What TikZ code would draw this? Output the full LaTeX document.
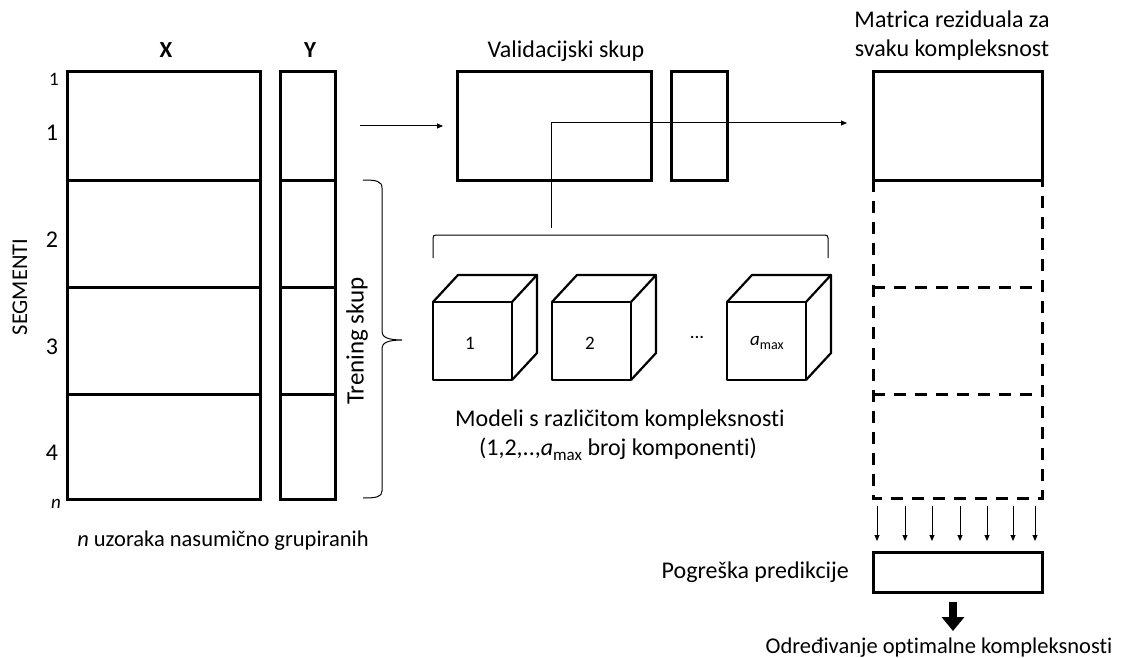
\documentclass[tikz,border=0pt]{standalone}
\usepackage{fontspec}
\setmainfont{Carlito}[Ligatures=CommonOff]
\usetikzlibrary{arrows.meta}
\newcommand{\amx}[1]{\itshape a\upshape\raisebox{-0.22em}{\fontsize{#1}{#1}\selectfont max}}
\begin{document}
\begin{tikzpicture}[x=1pt,y=-1pt,
  thickbox/.style={line width=3pt},
  dashbox/.style={line width=3pt, dash pattern=on 12pt off 9pt},
  thin/.style={line width=1pt},
  arr/.style={line width=1pt,-{Triangle[length=6pt,width=5pt]}},
  lbl/.style={font=\fontsize{24}{29}\selectfont, inner sep=0pt},
  small/.style={font=\fontsize{19}{22}\selectfont, inner sep=0pt},
  cube/.style={line width=2.2pt, line join=round}
]
\useasboundingbox (0,0) rectangle (1122,658);

% ---- left data matrix
\draw[thickbox] (67,72) rectangle (260,499);
\draw[thickbox] (280,72) rectangle (335,499);
\foreach \yy in {180,287,394}{
  \draw[thickbox] (67,\yy) -- (260,\yy);
  \draw[thickbox] (280,\yy) -- (335,\yy);
}
\node[lbl,font=\fontsize{23}{26}\selectfont\bfseries] (X) at (166,50) {X};
\node[lbl,font=\fontsize{23}{26}\selectfont\bfseries] (Y) at (310,50) {Y};
\node[small] (r1) at (54,79) {1};
\node[lbl] (s1) at (52,133) {1};
\node[lbl] (s2) at (52,240) {2};
\node[lbl] (s3) at (52,347) {3};
\node[lbl] (s4) at (52,453) {4};
\node[small] (rn) at (56,504) {\itshape n};
\node[lbl,rotate=90,font=\fontsize{22.5}{26}\selectfont] (seg) at (20,287) {SEGMENTI};
\node[lbl,font=\fontsize{22.5}{27}\selectfont] (nuz) at (223,541) {\itshape n\upshape{} uzoraka nasumično grupiranih};

% ---- training brace
\draw[thin] (363,180) .. controls (376,180) and (382,181) .. (382,188) -- (382,332) .. controls (382,337) and (388,340) .. (402,340)
  (382,348) .. controls (382,343) and (388,340) .. (402,340)
  (382,348) -- (382,491) .. controls (382,497) and (376,498) .. (363,498);
\node[lbl,rotate=90,font=\fontsize{25}{29}\selectfont] (tren) at (357,341) {Trening skup};

% ---- validation set
\coordinate (a0) at (360,126);
\coordinate (a1) at (443,126);
\draw[arr] (a0) -- (a1);
\draw[thickbox] (457,72) rectangle (651,180);
\draw[thickbox] (671,72) rectangle (727,180);
\node[lbl] (val) at (566,51) {Validacijski skup};

% ---- models bracket
\draw[thin] (433,258) -- (433,238) .. controls (433,236) and (434,235) .. (436,235) -- (825,235) .. controls (827,235) and (828,236) .. (828,238) -- (828,258);
\coordinate (b0) at (551,228);
\coordinate (b1) at (551,123);
\coordinate (b2) at (847,123);
\draw[arr] (b0) -- (b1) -- (b2);

% ---- cubes
\foreach \cx/\nm in {433/c1,552/c2,727/c3}{
  \draw[cube] (\cx,302) rectangle ++(79,78);
  \draw[cube] (\cx,302) -- ++(25,-27) -- ++(79,0) -- ++(-25,27);
  \draw[cube] (\cx+104,275) -- ++(0,78) -- ++(-25,27);
}
\node[small] (m1) at (470,343) {1};
\node[small] (m2) at (590,343) {2};
\node[small] (dots) at (697,337) {...};
\node[small] (m3) at (767,343) {\amx{14}};
\node[lbl] (mod1) at (620,420) {Modeli s različitom kompleksnosti};
\node[lbl] (mod2) at (618,449) {(1,2,..,\amx{17} broj komponenti)};

% ---- residual matrix
\node[lbl,align=center] (mat) at (952,36) {Matrica reziduala za\\svaku kompleksnost};
\draw[thickbox] (873,72) rectangle (1042,180);
\draw[dashbox] (873,180) -- (873,498) -- (1042,498) -- (1042,180);
\draw[dashbox] (873,287) -- (1042,287);
\draw[dashbox] (873,394) -- (1042,394);

% ---- arrows to error
\foreach \xx in {877,905,932,960,987,1013,1035}{
  \draw[arr] (\xx,506) -- (\xx,541);
}
\draw[thickbox] (873,552) rectangle (1042,592);
\node[lbl,anchor=east] (pog) at (849,572) {Pogreška predikcije};
\coordinate (t0) at (953,602);
\coordinate (t1) at (953,631);
\draw[line width=8pt,-{Triangle[length=14pt,width=22pt]}] (t0) -- (t1);
\node[lbl,font=\fontsize{22.5}{27}\selectfont] (odr) at (939,648) {Određivanje optimalne kompleksnosti};
\end{tikzpicture}
\end{document}
